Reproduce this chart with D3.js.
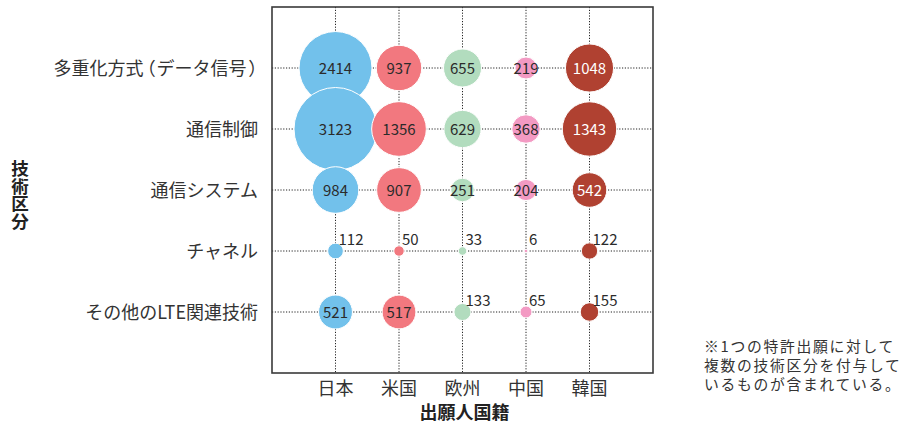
<!DOCTYPE html>
<html>
<head>
<meta charset="utf-8">
<script src="https://cdn.jsdelivr.net/npm/d3@7"></script>
<style>
  html, body { margin: 0; padding: 0; background: #fff; }
  svg { display: block; }
  text { font-family: "Noto Sans CJK JP", "Noto Sans", sans-serif; fill: #333; }
  tspan.paren { font-feature-settings: "palt"; }
</style>
</head>
<body>
<svg id="chart" width="909" height="423"></svg>
<script>
// Applicant nationality (columns) and technology category (rows)
const countries = ["日本", "米国", "欧州", "中国", "韓国"];
const categories = ["多重化方式（データ信号）", "通信制御", "通信システム", "チャネル", "その他のLTE関連技術"];

// Patent application counts per category, one array per country
const japan  = [2414, 3123, 984, 112, 521];
const usa    = [937, 1356, 907, 50, 517];
const europe = [655, 629, 251, 33, 133];
const china  = [219, 368, 204, 6, 65];
const korea  = [1048, 1343, 542, 122, 155];

const seriesValues = [japan, usa, europe, china, korea];
const colors = ["#72c1eb", "#f2787f", "#b2dcbe", "#f39ac3", "#b04131"];
const labelColors = ["#2b2b2b", "#2b2b2b", "#2b2b2b", "#2b2b2b", "#ffffff"];

const xTitle = "出願人国籍";
const yTitle = "技術区分";
const noteLines = ["※1つの特許出願に対して", "複数の技術区分を付与して", "いるものが含まれている。"];

const svg = d3.select("#chart");
const frame = { left: 272, top: 7, right: 653, bottom: 373 };

const x = d3.scalePoint().domain(countries).range([frame.left, frame.right]).padding(1);
const y = d3.scalePoint().domain(categories).range([frame.top, frame.bottom]).padding(1);
const maxVal = d3.max(seriesValues.flat());
const r = d3.scaleSqrt().domain([0, maxVal]).range([0, 41.5]);

// Dotted grid through each row and column
const grid = svg.append("g")
  .attr("stroke", "#222").attr("stroke-width", 1).attr("stroke-dasharray", "1.2,1.6");
grid.selectAll("line.v").data(countries).join("line")
  .attr("x1", d => x(d)).attr("x2", d => x(d))
  .attr("y1", frame.top).attr("y2", frame.bottom);
grid.selectAll("line.h").data(categories).join("line")
  .attr("y1", d => y(d)).attr("y2", d => y(d))
  .attr("x1", frame.left).attr("x2", frame.right);

// Bubbles
const cells = [];
countries.forEach((c, ci) => {
  categories.forEach((cat, ri) => {
    cells.push({ country: c, category: cat, value: seriesValues[ci][ri], ci });
  });
});

svg.append("g").selectAll("circle").data(cells).join("circle")
  .attr("cx", d => x(d.country))
  .attr("cy", d => y(d.category))
  .attr("r", d => r(d.value))
  .attr("fill", d => colors[d.ci])
  .attr("stroke", "#fff").attr("stroke-width", 1);

// Value labels: inside large bubbles, upper right of small ones
const inside = d => d.value >= 200;
svg.append("g").selectAll("text").data(cells).join("text")
  .attr("x", d => inside(d) ? x(d.country) : x(d.country) + 3)
  .attr("y", d => inside(d) ? y(d.category) + 5.5 : y(d.category) - 6)
  .attr("text-anchor", d => inside(d) ? "middle" : "start")
  .style("font-size", "15px")
  .style("fill", d => inside(d) ? labelColors[d.ci] : "#2b2b2b")
  .text(d => d.value);

// Frame
svg.append("rect")
  .attr("x", frame.left).attr("y", frame.top)
  .attr("width", frame.right - frame.left).attr("height", frame.bottom - frame.top)
  .attr("fill", "none").attr("stroke", "#3a3a3a").attr("stroke-width", 1.6);

// Category labels; brackets set with proportional widths and a little air
const catLabels = svg.append("g").selectAll("text").data(categories).join("text")
  .attr("x", frame.left - 14).attr("y", d => y(d) + 6.5)
  .attr("text-anchor", "end").style("font-size", "18px");
catLabels.each(function(d) {
  const t = d3.select(this);
  let afterParen = false;
  d.split(/([（）])/).filter(s => s.length).forEach(part => {
    const isParen = /[（）]/.test(part);
    t.append("tspan")
      .attr("class", isParen ? "paren" : null)
      .attr("dx", isParen ? 2.5 : (afterParen ? 1.5 : null))
      .text(part);
    afterParen = isParen;
  });
});

svg.append("g").selectAll("text").data(countries).join("text")
  .attr("x", d => x(d)).attr("y", 395)
  .attr("text-anchor", "middle").style("font-size", "18px")
  .text(d => d);

// Axis titles
svg.append("text")
  .attr("x", (frame.left + frame.right) / 2 + 2).attr("y", 418.5)
  .attr("text-anchor", "middle").style("font-size", "18px").style("font-weight", "bold")
  .style("fill", "#222")
  .text(xTitle);

svg.append("text")
  .attr("x", 20).attr("y", 160)
  .style("writing-mode", "vertical-rl")
  .style("text-orientation", "upright")
  .style("font-size", "17.5px").style("font-weight", "bold")
  .style("fill", "#222")
  .text(yTitle);

// Footnote, three lines with a little tracking
svg.append("text")
  .style("font-size", "14.8px")
  .style("letter-spacing", "1.7px")
  .selectAll("tspan").data(noteLines).join("tspan")
  .attr("x", 704).attr("y", (d, i) => 351.5 + i * 19.4)
  .text(d => d);
</script>
</body>
</html>
